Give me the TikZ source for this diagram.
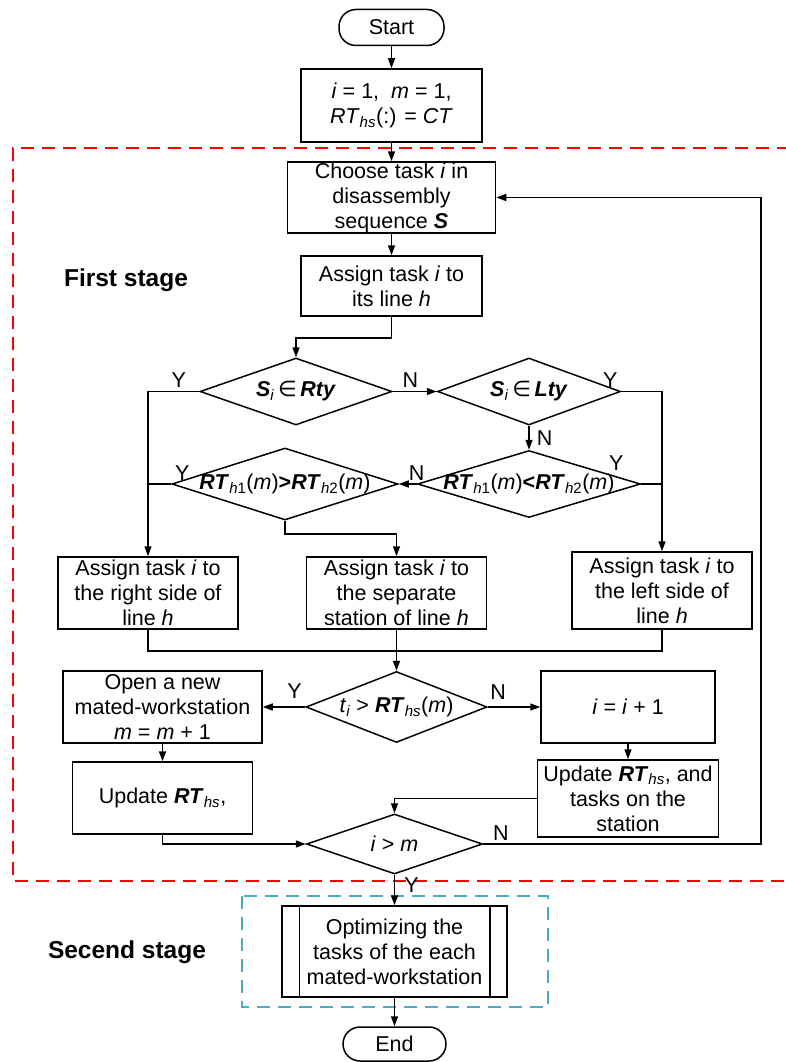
\documentclass[tikz,border=0pt]{standalone}
\usepackage{fontspec}
\setmainfont{Liberation Sans}
\newfontfamily\dejavu{DejaVu Sans}
\usetikzlibrary{arrows.meta,shapes.geometric,positioning}

\definecolor{framered}{RGB}{255,0,0}
\definecolor{frameblue}{RGB}{75,172,198}

\newcommand{\bi}[1]{\textbf{\textit{#1}}}
\newcommand{\lo}[1]{\textsubscript{#1}}
\newcommand{\dtext}[1]{\makebox[0pt]{#1}}

\begin{document}
\begin{tikzpicture}[x=1pt,y=-1pt,->,>={Triangle[length=10pt,width=7pt]},line width=1.5pt,
                    font=\fontsize{21.5}{25}\selectfont,
                    term/.style={draw,rectangle,rounded corners=17pt,minimum width=105pt,minimum height=36pt,inner sep=0pt},
                    box/.style={draw,rectangle,align=center,inner sep=0pt},
                    decision/.style={draw,diamond,inner sep=0pt},
                    yn/.style={inner sep=3pt},
                    stage/.style={font=\fontsize{24.5}{28}\selectfont\bfseries}]

\useasboundingbox (0,0) rectangle (786,1062);

\draw[-,framered,line width=1.5pt,dash pattern=on 13pt off 8pt] (790,148) -- (13,148) -- (13,881) -- (790,881);
\draw[-,frameblue,line width=1.5pt,dash pattern=on 13pt off 8pt] (242,896) rectangle (548,1007);

\node[term] (1) at (391.5,27.5) {Start};
\node[box,minimum width=181pt,minimum height=73pt] (2) at (391.5,105.5) {\textit{i} = 1,\ \ \textit{m} = 1,\\\textit{RT}\lo{\textit{hs}}(:) = \textit{CT}};
\node[box,minimum width=208pt,minimum height=71pt] (3) at (391.5,197.5) {Choose task \textit{i} in\\disassembly\\sequence \bi{S}};
\node[box,minimum width=181pt,minimum height=60pt] (4) at (391.5,286) {Assign task \textit{i} to\\its line \textit{h}};

\node[decision,minimum width=192pt,minimum height=67pt] (5) at (296,391.5) {\dtext{\bi{S}\lo{\textit{i}}\,{\dejavu ∈}\,\bi{Rty}}};
\node[decision,minimum width=183pt,minimum height=67pt] (6) at (529,391.5) {\dtext{\bi{S}\lo{\textit{i}}\,{\dejavu ∈}\,\bi{Lty}}};
\node[decision,minimum width=226pt,minimum height=72pt] (7) at (285,484) {\dtext{\bi{RT}\lo{\textit{h}1}(\textit{m})\textbf{>}\bi{RT}\lo{\textit{h}2}(\textit{m})}};
\node[decision,minimum width=223pt,minimum height=67pt] (8) at (529,484) {\dtext{\bi{RT}\lo{\textit{h}1}(\textit{m})\textbf{<}\bi{RT}\lo{\textit{h}2}(\textit{m})}};

\node[box,minimum width=180pt,minimum height=72pt] (9) at (148,593) {Assign task \textit{i} to\\the right side of\\line \textit{h}};
\node[box,minimum width=180pt,minimum height=72pt] (10) at (396.5,593) {Assign task \textit{i} to\\the separate\\station of line \textit{h}};
\node[box,minimum width=180pt,minimum height=77pt] (11) at (662,590.5) {Assign task \textit{i} to\\the left side of\\line \textit{h}};

\node[decision,minimum width=181pt,minimum height=71pt] (12) at (396.5,707) {\dtext{\textit{t}\lo{\textit{i}} > \bi{RT}\lo{\textit{hs}}(\textit{m})}};
\node[box,minimum width=199pt,minimum height=72pt] (13) at (162.5,707) {Open a new\\mated-workstation\\\textit{m} = \textit{m} + 1};
\node[box,minimum width=174pt,minimum height=72pt] (14) at (628,707) {\textit{i} = \textit{i} + 1};
\node[box,minimum width=180pt,minimum height=72pt] (15) at (162.5,798) {Update \bi{RT}\lo{\textit{hs}},};
\node[box,minimum width=181pt,minimum height=77pt] (16) at (628,798.5) {Update \bi{RT}\lo{\textit{hs}}, and\\tasks on the\\station};
\node[decision,minimum width=176pt,minimum height=60pt] (17) at (394.5,844) {\dtext{\textit{i} > \textit{m}}};

\node[box,minimum width=225pt,minimum height=91pt] (18) at (394.5,951.5) {Optimizing the\\tasks of the each\\mated-workstation};
\node[term,minimum width=103pt,minimum height=34pt] (19) at (394.5,1044) {End};

\node[stage] (s1) at (126,280) {First stage};
\node[stage] (s2) at (127,952) {Secend stage};

\coordinate (j) at (396.5,651);
\coordinate (back) at (761,844);

\draw[-] ([xshift=18pt]18.north west) -- ([xshift=18pt]18.south west);
\draw[-] ([xshift=-18pt]18.north east) -- ([xshift=-18pt]18.south east);

\draw
(1) edge (2)
(2) edge (3)
(3) edge (4)
(5) edge node[yn,above,pos=0.4]{N} (6)
(6) edge node[yn,right,pos=0.5,xshift=4pt]{N} (8)
(8) edge node[yn,above,pos=0]{N} (7)
(10) edge (12)
(12) edge node[yn,above,pos=0.25,yshift=5pt]{Y} (13)
(12) edge node[yn,above,pos=0.2,yshift=4pt]{N} (14)
(13) edge (15)
(14) edge (16)
(17) edge node[yn,right,pos=0.35,xshift=6pt]{Y} (18)
(18) edge (19)
;

\draw (4.south) -- ++(0,21) -| (5.north);
\draw (5.west) -| node[yn,above,pos=0.2]{Y} (9.north);
\draw (6.east) -| node[yn,above left,pos=0]{Y} (11.north);
\draw[-] (7.west) -- node[yn,above right,pos=0]{Y} (7.west -| 9.north);
\draw[-] (8.east) -- node[above left,inner sep=1pt,pos=0,xshift=-16pt,yshift=12pt]{Y} (8.east -| 11.north);
\draw (7.south) -- ++(0,13) -| (10.north);
\draw[-] (9.south) |- (j) -| (11.south);
\draw (15.south) |- (17.west);
\draw (16.west) -| (17.north);
\draw (17.east) -- node[yn,above right,pos=0,xshift=6pt]{N} (back) |- (3.east);

\end{tikzpicture}
\end{document}
